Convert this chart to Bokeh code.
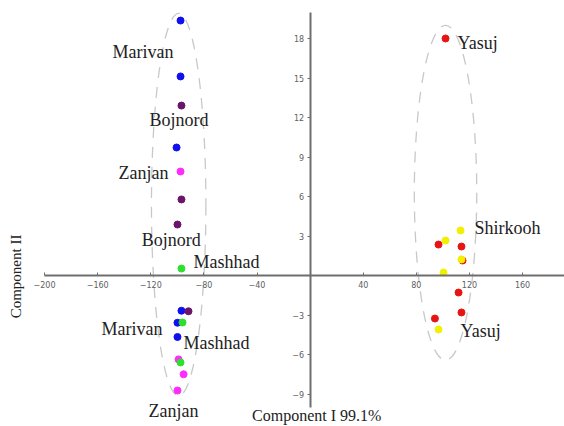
from bokeh.plotting import figure
from bokeh.models import Range1d, LinearAxis, FixedTicker, Label
from bokeh.core.properties import value
from bokeh.embed import file_html
from bokeh.resources import INLINE
import math

# ---- data ----
marivan_x = [-97.6, -97.6, -100.6, -96.9, -99.9, -99.9]
marivan_y = [19.36, 15.12, 9.73, -2.65, -3.56, -4.64]
bojnord_x = [-96.9, -96.9, -99.9, -91.6]
bojnord_y = [12.91, 5.79, 3.89, -2.69]
zanjan_x = [-97.6, -99.1, -95.3, -99.9]
zanjan_y = [7.91, -6.34, -7.47, -8.70]
mashhad_x = [-96.9, -96.1, -97.6]
mashhad_y = [0.55, -3.54, -6.57]
yasuj_x = [102.0, 96.7, 114.0, 114.8, 111.8, 114.0, 94.0]
yasuj_y = [18.0, 2.37, 2.22, 1.16, -1.27, -2.78, -3.24]
shirkooh_x = [113.3, 102.0, 114.0, 100.5, 96.7]
shirkooh_y = [3.44, 2.68, 1.24, 0.25, -4.07]

ellipse_x = [-99.0, 102.0]
ellipse_y = [5.4, 6.3]
ellipse_w = [41.0, 47.0]
ellipse_h = [29.0, 25.4]

label_text = ["Marivan", "Bojnord", "Zanjan", "Bojnord", "Mashhad", "Marivan",
              "Mashhad", "Zanjan", "Yasuj", "Shirkooh", "Yasuj"]
label_x = [-102.9, -121.0, -106.6, -126.9, -87.8, -111.2, -95.3, -121.7, 111.0, 123.8, 113.3]
label_y = [16.94, 11.78, 7.83, 2.75, 1.01, -4.0, -5.13, -10.22, 17.69, 3.59, -4.15]
label_align = ["right", "left", "right", "left", "left", "right", "left", "left", "left", "left", "left"]

x_ticks = [-200, -160, -120, -80, -40, 40, 80, 120, 160]
y_ticks = [-9, -6, -3, 3, 6, 9, 12, 15, 18]

p = figure(width=564, height=426, output_backend="svg", toolbar_location=None,
           x_range=Range1d(-233.2, 191.6), y_range=Range1d(-11.43, 20.88),
           x_axis_type=None, y_axis_type=None, min_border=0)
p.outline_line_color = None
p.xgrid.visible = False
p.ygrid.visible = False
p.background_fill_color = "white"

axis_color = "#6e6e6e"
xa = LinearAxis(fixed_location=0, ticker=FixedTicker(ticks=x_ticks), bounds=(-200, 200))
xa.axis_line_color = axis_color
xa.axis_line_width = 2
xa.major_tick_line_color = axis_color
xa.major_tick_in = 3
xa.major_tick_out = 0
xa.minor_tick_line_color = None
xa.major_label_text_font = "DejaVu Sans"
xa.major_label_text_font_size = "8px"
xa.major_label_text_color = "#606060"
xa.major_label_standoff = 5
p.add_layout(xa, "below")

ya = LinearAxis(fixed_location=0, ticker=FixedTicker(ticks=y_ticks), bounds=(-10, 20))
ya.axis_line_color = axis_color
ya.axis_line_width = 2
ya.major_tick_line_color = axis_color
ya.major_tick_in = 0
ya.major_tick_out = 3
ya.minor_tick_line_color = None
ya.major_label_text_font = "DejaVu Sans"
ya.major_label_text_font_size = "8px"
ya.major_label_text_color = "#606060"
ya.major_label_standoff = 3
p.add_layout(ya, "left")

p.ellipse(x=ellipse_x, y=ellipse_y, width=ellipse_w, height=ellipse_h,
          fill_color=None, line_color="#c8c8c8", line_width=1.3, line_dash="11 9")

sz = 7
p.scatter(marivan_x, marivan_y, size=sz, color="#1010ee")
p.scatter(bojnord_x, bojnord_y, size=sz, color="#6a146a")
p.scatter(zanjan_x, zanjan_y, size=sz, color="#ff2cff")
p.scatter(mashhad_x, mashhad_y, size=sz, color="#2ee02e")
p.scatter(yasuj_x, yasuj_y, size=sz, color="#e81414")
p.scatter(shirkooh_x, shirkooh_y, size=sz, color="#f2f000")

p.text(x=label_x, y=label_y, text=label_text, text_align=label_align,
       text_baseline="middle", text_font=value("Liberation Serif"),
       text_font_size="18px", text_color="#222222")

p.add_layout(Label(x=5, y=-10.62, text="Component I 99.1%", text_align="center",
                   text_baseline="middle", text_font="Liberation Serif",
                   text_font_size="16px", text_color="#222222"))
p.add_layout(Label(x=-221.9, y=-0.05, text="Component II", angle=math.pi / 2,
                   text_align="center", text_baseline="middle",
                   text_font="Liberation Serif", text_font_size="15px",
                   text_color="#222222"))

open("out.html", "w").write(file_html(p, INLINE))
